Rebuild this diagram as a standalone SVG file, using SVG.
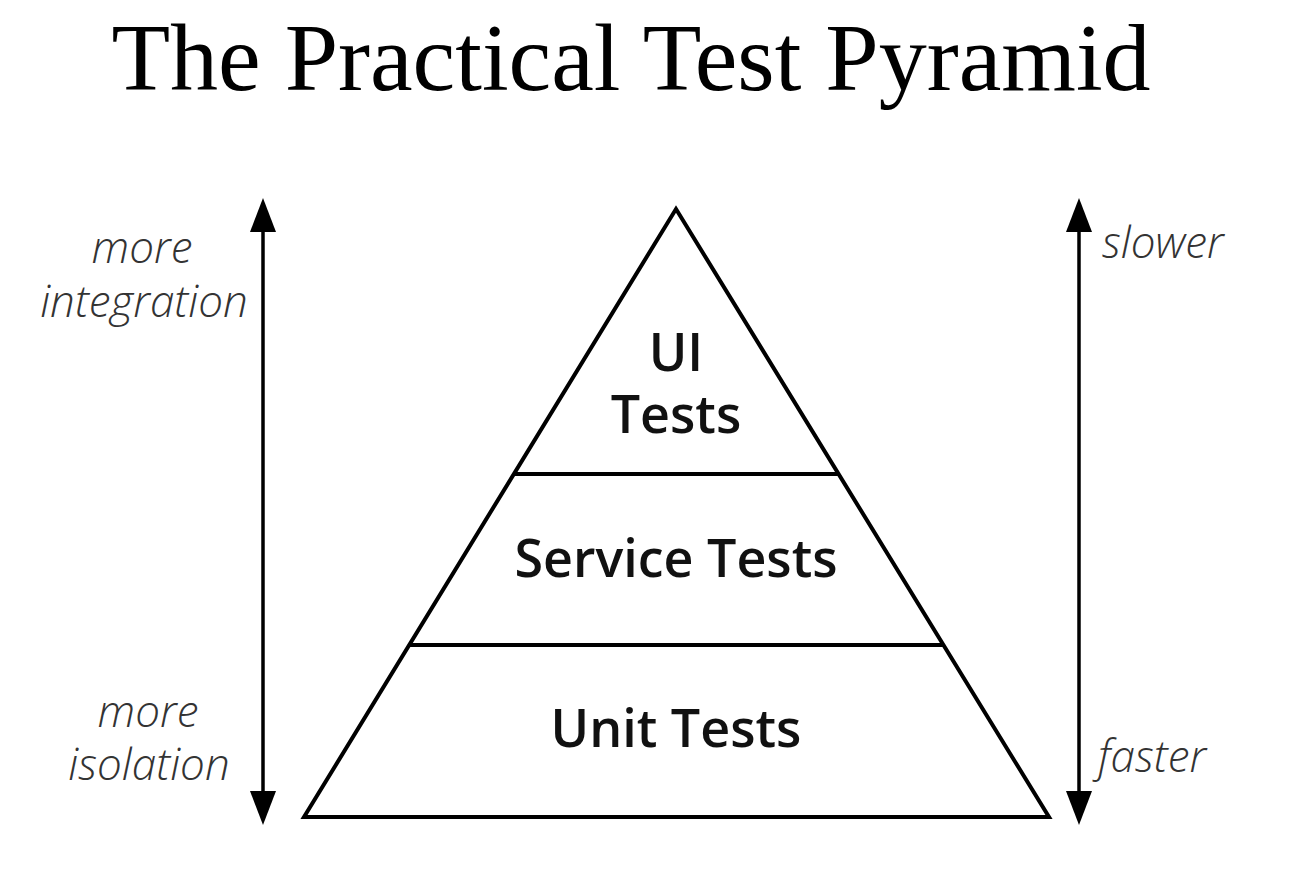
<svg xmlns="http://www.w3.org/2000/svg" width="1308" height="878" viewBox="0 0 1308 878">
<style>
.title{font-family:"Liberation Serif","Times New Roman",serif;font-size:96px;fill:#000;text-anchor:middle}
.lbl{font-family:"Open Sans","Noto Sans",sans-serif;font-weight:600;font-size:52px;fill:#111;text-anchor:middle}
.side{font-family:"Open Sans","Noto Sans",sans-serif;font-style:italic;font-weight:300;font-size:44px;fill:#333;text-anchor:middle}
.side-l{text-anchor:start}
.edge{fill:none;stroke:#000;stroke-width:4}
.arrow{fill:none;stroke:#000;stroke-width:3.5}
.head{fill:#000}
</style>
<rect width="1308" height="878" fill="#fff"/>
<text class="title" x="631" y="90">The Practical Test Pyramid</text>
<g id="pyramid">
<path class="edge" d="M676 209 L1049 817 L304 817 Z" stroke-linejoin="miter"/>
</g>
<g id="ui-tests">
<text class="lbl" x="676" y="371">UI</text>
<text class="lbl" x="676" y="433">Tests</text>
</g>
<g id="service-tests">
<line class="edge" x1="513" y1="474" x2="839" y2="474"/>
<text class="lbl" x="676" y="577">Service Tests</text>
</g>
<g id="unit-tests">
<line class="edge" x1="408" y1="645" x2="944" y2="645"/>
<text class="lbl" x="676" y="747">Unit Tests</text>
</g>
<g id="connectors">
<line class="arrow" x1="263" y1="228" x2="263" y2="795"/>
<path class="head" d="M263 198 L276 232 L250 232 Z"/>
<path class="head" d="M263 825 L276 791 L250 791 Z"/>
<line class="arrow" x1="1079" y1="228" x2="1079" y2="795"/>
<path class="head" d="M1079 198 L1092 232 L1066 232 Z"/>
<path class="head" d="M1079 825 L1092 791 L1066 791 Z"/>
</g>
<g id="left-labels">
<text class="side" x="142" y="263">more</text>
<text class="side" x="144" y="317">integration</text>
<text class="side" x="148" y="727">more</text>
<text class="side" x="149" y="780">isolation</text>
</g>
<g id="right-labels">
<text class="side side-l" x="1102" y="258">slower</text>
<text class="side side-l" x="1098" y="772">faster</text>
</g>
</svg>
